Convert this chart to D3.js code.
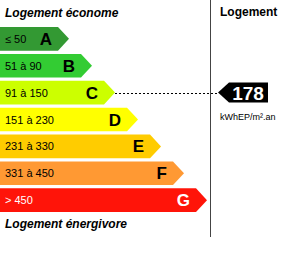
<!DOCTYPE html>
<html>
<head>
<meta charset="utf-8">
<script src="https://cdn.jsdelivr.net/npm/d3@7"></script>
<style>
  body { margin: 0; background: #fff; }
  svg { display: block; font-family: "Liberation Sans", Arial, sans-serif; }
</style>
</head>
<body>
<div class="container"></div>
<script>
var w = 300;
var h = 266;

// classes, top to bottom
var letters = ["A", "B", "C", "D", "E", "F", "G"];
var ranges = ["\u2264 50", "51 \u00e0 90", "91 \u00e0 150", "151 \u00e0 230", "231 \u00e0 330", "331  \u00e0 450", "> 450"];
var colors = ["#339933", "#33cc33", "#ccff00", "#ffff00", "#ffcc00", "#ff9933", "#ff1409"];
var textColors = ["#000", "#000", "#000", "#000", "#000", "#000", "#fff"];

var value = 178;
var valueClass = "C";
var unit = "kWhEP/m\u00b2.an";

var svg = d3.select(".container").append("svg").attr("width", w).attr("height", h);

var y = d3.scaleBand().domain(letters).range([27, 212]).paddingInner(0.12);
var x = d3.scaleLinear().domain([0, letters.length - 1]).range([58, 196]);
var tip = 11;

var bars = svg.selectAll("g.bar").data(letters).enter().append("g").attr("class", "bar");

bars.append("path")
  .attr("d", function(d, i) {
    var y0 = y(d), y1 = y(d) + y.bandwidth(), xe = x(i);
    return "M0," + y0 + "H" + xe + "L" + (xe + tip) + "," + (y0 + y.bandwidth() / 2) + "L" + xe + "," + y1 + "H0Z";
  })
  .attr("fill", function(d, i) { return colors[i]; });

bars.append("text")
  .attr("x", 5)
  .attr("y", function(d) { return y(d) + y.bandwidth() / 2 + 4; })
  .attr("font-size", 11)
  .attr("fill", function(d, i) { return textColors[i]; })
  .text(function(d, i) { return ranges[i]; });

bars.append("text")
  .attr("x", function(d, i) { return x(i) - 6; })
  .attr("y", function(d) { return y(d) + y.bandwidth() / 2 + 6; })
  .attr("text-anchor", "end")
  .attr("font-size", 17)
  .attr("font-weight", "bold")
  .attr("fill", function(d, i) { return textColors[i]; })
  .text(function(d) { return d; });

// titles
svg.append("text").attr("x", 5).attr("y", 17)
  .attr("font-size", 12).attr("font-weight", "bold").attr("font-style", "italic")
  .text("Logement \u00e9conome");
svg.append("text").attr("x", 5).attr("y", 228)
  .attr("font-size", 12).attr("font-weight", "bold").attr("font-style", "italic")
  .text("Logement \u00e9nergivore");
svg.append("text").attr("x", 220).attr("y", 16)
  .attr("font-size", 12).attr("font-weight", "bold")
  .text("Logement");

// separator
svg.append("line").attr("x1", 210.5).attr("x2", 210.5).attr("y1", 0).attr("y2", 237)
  .attr("stroke", "#444").attr("stroke-width", 1);

// marker
var ci = letters.indexOf(valueClass);
var my = y(valueClass) + y.bandwidth() / 2;
var mTop = my - 10, mBot = my + 10;
svg.append("line")
  .attr("x1", x(ci) + tip).attr("x2", 218)
  .attr("y1", Math.round(my) + 0.5).attr("y2", Math.round(my) + 0.5)
  .attr("stroke", "#000").attr("stroke-dasharray", "2,2");
svg.append("path")
  .attr("d", "M218," + my + "L229," + mTop + "H268V" + mBot + "H229Z")
  .attr("fill", "#000");
svg.append("text").attr("x", 248).attr("y", my + 7)
  .attr("text-anchor", "middle").attr("font-size", 19).attr("font-weight", "bold")
  .attr("fill", "#fff").text(value);
svg.append("text").attr("x", 220).attr("y", my + 27)
  .attr("font-size", 9).text(unit);
</script>
</body>
</html>
